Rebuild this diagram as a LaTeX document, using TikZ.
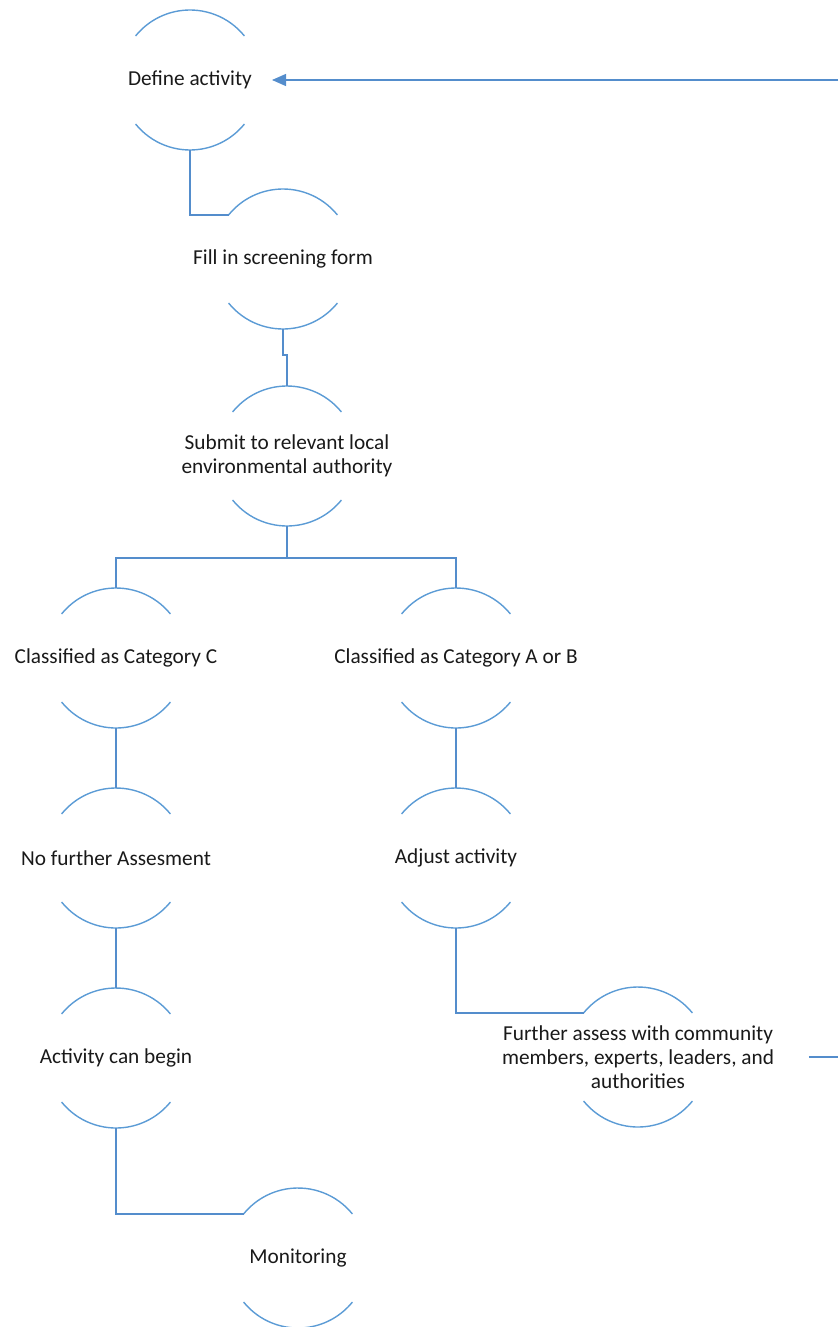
\documentclass[tikz,border=0pt]{standalone}
\usepackage{fontspec}
\setmainfont{Carlito}
\usetikzlibrary{arrows.meta}
\definecolor{arcblue}{RGB}{91,155,213}
\definecolor{lineblue}{RGB}{84,141,204}
\begin{document}
\begin{tikzpicture}[x=1pt,y=-1pt,
  stage/.style={rectangle, inner sep=0pt, outer sep=0pt, minimum width=140pt, minimum height=140pt, align=center, text=black!90, font=\fontsize{21.3}{24}\selectfont},
  rim/.style={draw=arcblue, line width=1.4pt},
  link/.style={draw=lineblue, line width=1.4pt},
  arr/.style={link, -{Triangle[length=14pt,width=12pt]}}
]
\useasboundingbox (0,0) rectangle (838,1327);
\node[stage] (define) at (190,80) {Define activity};
\node[stage] (fill) at (283,259) {Fill in screening form};
\node[stage] (submit) at (287,456) {Submit to relevant local\\environmental authority};
\node[stage] (catC) at (116,658) {Classified as Category C};
\node[stage] (catAB) at (456,658) {Classified as Category A or B};
\node[stage] (nofurther) at (116,858) {No further Assesment};
\node[stage] (adjust) at (456,858) {Adjust activity};
\node[stage] (begin) at (116,1058) {Activity can begin};
\node[stage] (further) at (638,1057) {Further assess with community\\members, experts, leaders, and\\authorities};
\node[stage] (monitor) at (298,1258) {Monitoring};
\foreach \n in {define,fill,submit,catC,catAB,nofurther,adjust,begin,further,monitor} {
  \draw[rim] ([shift={(39:70pt)}]\n.center) arc[start angle=39, end angle=141, radius=70pt];
  \draw[rim] ([shift={(219:70pt)}]\n.center) arc[start angle=219, end angle=321, radius=70pt];
}
\coordinate (edgeTop) at (838,80);
\coordinate (edgeLow) at (838,1057);
\draw[link] (define.south) |- ([shift={(141:70pt)}]fill.center);
\draw[link] (fill.south) -- ++(0,26) -| (submit.north);
\draw[link] (submit.south) -- ++(0,32) coordinate (split);
\draw[link] (split) -| (catC.north);
\draw[link] (split) -| (catAB.north);
\draw[link] (catC.south) -- (nofurther.north);
\draw[link] (catAB.south) -- (adjust.north);
\draw[link] (nofurther.south) -- (begin.north);
\draw[link] (adjust.south) |- ([shift={(141:70pt)}]further.center);
\draw[link] (begin.south) |- ([shift={(141:70pt)}]monitor.center);
\draw[link] ([xshift=35pt]further.east) -- (edgeLow);
\draw[arr] (edgeTop) -- ([xshift=12pt]define.east);
\end{tikzpicture}
\end{document}
